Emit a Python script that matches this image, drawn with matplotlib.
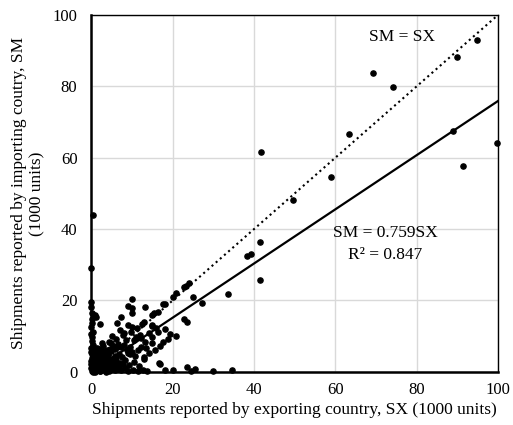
import matplotlib.pyplot as plt
import numpy as np

plt.rcParams['font.family'] = ['Liberation Serif', 'DejaVu Serif']

# shipments reported by exporting country (SX) / importing country (SM), 1000 units
sx_large = [0.5, 0.0, 41.6, 69.2, 74.1, 89.9, 94.8, 88.9, 99.8, 91.4, 63.3, 58.9,
            49.5, 41.4, 38.2, 39.2, 41.4, 33.7, 27.1, 24.9, 24.1, 23.2, 22.7,
            20.9, 20.2, 18.0, 17.5, 16.3, 15.5, 15.0, 22.9, 23.6, 20.7, 16.0,
            14.8, 15.0, 17.0, 16.7, 23.4, 25.4, 29.8, 34.5, 18.2, 20.0, 24.6]
sm_large = [44.0, 29.0, 61.6, 83.8, 79.8, 88.2, 93.0, 67.5, 64.1, 57.7, 66.7, 54.6,
            48.2, 36.4, 32.5, 33.0, 25.8, 21.8, 19.3, 21.0, 25.0, 24.1, 23.8,
            22.1, 21.0, 19.0, 19.0, 16.8, 16.5, 16.0, 14.8, 14.0, 10.1, 12.3,
            9.8, 8.1, 2.2, 2.5, 1.4, 0.8, 0.3, 0.5, 0.5, 0.5, 0.3]

sx_mid = [9.9, 9.1, 10.1, 9.9, 13.3, 7.4, 6.4, 2.2, 0.0, 0.0, 0.2, 1.0, 1.2,
          8.9, 10.1, 11.3, 13.0, 14.8, 7.1, 8.1, 14.3, 12.3, 11.0, 2.7, 4.9,
          6.2, 8.6, 9.4, 13.0, 10.1, 8.9]
sm_mid = [20.4, 18.5, 17.9, 16.5, 18.2, 15.4, 13.7, 13.4, 19.6, 18.2, 16.5, 16.0, 15.4,
          13.2, 12.6, 12.3, 14.0, 13.2, 11.8, 10.9, 10.9, 9.5, 9.8, 8.1, 8.1,
          7.0, 9.0, 7.0, 4.2, 5.6, 5.3]

sx_small = [0.3, 0.8, 1.5, 2.1, 0.5, 1.2, 2.8, 3.5, 0.9, 1.8, 2.6, 3.9, 4.6, 5.2,
            0.4, 1.4, 3.1, 4.2, 5.5, 6.3, 6.9, 2.2, 3.3, 4.4, 5.8, 6.6, 7.4, 8.3,
            9.1, 10.2, 11.5, 12.6, 13.8, 1.0, 0.2, 0.6, 0.1, 0.3, 0.2, 0.1, 0.4,
            0.0, 0.2, 0.1, 0.0, 0.0, 0.0, 0.0, 2.9, 3.8, 4.9, 5.9, 6.8, 7.5, 8.2,
            7.9, 9.3, 10.5, 11.8, 12.9, 1.7, 2.4, 3.2, 4.0, 4.8, 5.6, 6.1, 1.1,
            2.0, 3.6, 4.5, 5.3, 6.5, 7.2, 8.0, 8.8, 9.6, 10.8, 11.4, 12.1, 13.5,
            14.2, 15.6, 16.8, 17.5, 18.9, 19.4, 18.1, 16.4, 14.9, 13.1, 11.9, 10.6,
            9.8, 12.4, 7.8, 6.0, 4.3, 5.1, 0.7, 1.3, 1.9, 2.5, 3.0, 0.6, 1.6, 2.3,
            0.2, 0.9, 1.7, 2.7, 3.4, 4.1, 0.4, 1.1, 0.0, 0.0, 0.1, 0.3, 5.0, 6.2,
            7.0, 3.7, 2.0, 1.4, 0.8,
            0.5, 1.0, 1.5, 2.0, 2.5, 3.0, 3.5, 4.0, 4.5, 5.0, 0.7, 1.2, 1.8, 2.3,
            2.9, 3.4, 3.9, 4.4, 5.4, 6.0, 0.3, 0.9, 1.4, 2.0, 2.6, 3.2, 3.8, 4.7,
            0.6, 1.3, 2.1, 2.8, 3.6, 0.2, 1.0, 1.9, 2.7, 6.4, 5.7, 4.2]
sm_small = [0.5, 1.2, 0.4, 1.8, 2.5, 3.1, 2.4, 1.1, 4.2, 5.0, 3.7, 3.3, 2.0, 0.8,
            6.1, 6.8, 5.6, 4.7, 3.9, 2.6, 1.4, 0.2, 0.6, 0.3, 0.5, 0.9, 0.4, 1.1,
            0.3, 0.6, 0.2, 0.4, 0.3, 0.1, 1.6, 3.4, 4.9, 7.5, 8.7, 9.9, 11.2,
            12.5, 13.6, 14.8, 3.0, 5.5, 1.0, 10.5, 7.2, 6.1, 5.8, 6.4, 5.1, 4.3, 3.2,
            2.2, 1.9, 2.8, 1.7, 3.5, 2.2, 4.5, 2.9, 1.6, 3.1, 2.2, 4.0, 5.7,
            6.3, 4.1, 6.5, 7.3, 7.8, 6.9, 7.6, 6.2, 5.0, 4.4, 6.0, 7.1, 6.6,
            5.2, 6.0, 7.2, 8.5, 9.1, 10.6, 12.0, 11.1, 12.8, 8.3, 10.2, 8.9,
            11.3, 13.4, 10.4, 9.2, 8.4, 10.0, 0.9, 2.0, 2.8, 3.6, 0.7, 1.5, 2.6, 1.2,
            3.9, 2.3, 4.4, 4.9, 3.8, 4.6, 5.2, 0.5, 6.8, 2.1, 0.2, 0.1, 1.3, 1.0,
            2.4, 3.0, 1.9, 0.4, 2.9,
            1.5, 2.2, 0.8, 3.3, 1.0, 4.0, 2.0, 2.9, 1.1, 3.4, 4.6, 5.1, 3.0, 4.3,
            1.3, 4.8, 2.5, 3.6, 1.8, 3.0, 3.5, 2.9, 2.6, 4.0, 0.9, 1.9, 4.6, 2.1,
            5.3, 0.6, 0.3, 5.5, 0.1, 2.4, 3.6, 4.2, 5.7, 1.6, 4.4, 5.9]

slope = 0.759
r2 = 0.847

sx = np.array(sx_large + sx_mid + sx_small)
sm = np.array(sm_large + sm_mid + sm_small)

fig, ax = plt.subplots(figsize=(5.13, 4.25), dpi=100)
fig.subplots_adjust(left=0.178, right=0.971, top=0.965, bottom=0.125)

ax.grid(True, color='#d9d9d9', linewidth=1.0)
ax.set_axisbelow(True)

ax.scatter(sx, sm, s=14, color='black', zorder=3, clip_on=False)

xs = np.array([0, 100])
ax.plot(xs, xs, linestyle=':', color='black', linewidth=1.5, zorder=2)
ax.plot(xs, slope * xs, color='black', linewidth=1.6, zorder=2)

ax.text(76.4, 93.8, 'SM = SX', ha='center', va='center', fontsize=12.5)
ax.text(72.2, 38.9, 'SM = %.3fSX' % slope, ha='center', va='center', fontsize=12.5)
ax.text(72.2, 32.8, 'R² = %.3f' % r2, ha='center', va='center', fontsize=12.5)

ax.set_xlim(0, 100)
ax.set_ylim(0, 100)
ax.set_xticks([0, 20, 40, 60, 80, 100])
ax.set_yticks([0, 20, 40, 60, 80, 100])
ax.tick_params(length=0, labelsize=12)
ax.tick_params(axis='x', pad=7)
ax.tick_params(axis='y', pad=10)

for side in ['left', 'bottom']:
    ax.spines[side].set_linewidth(1.8)
for side in ['top', 'right']:
    ax.spines[side].set_linewidth(1.0)

ax.set_xlabel('Shipments reported by exporting country, SX (1000 units)', fontsize=12.5, labelpad=3)
ax.set_ylabel('Shipments reported by importing coutry, SM\n(1000 units)', fontsize=12.5, labelpad=5)

fig.savefig('out.png')
